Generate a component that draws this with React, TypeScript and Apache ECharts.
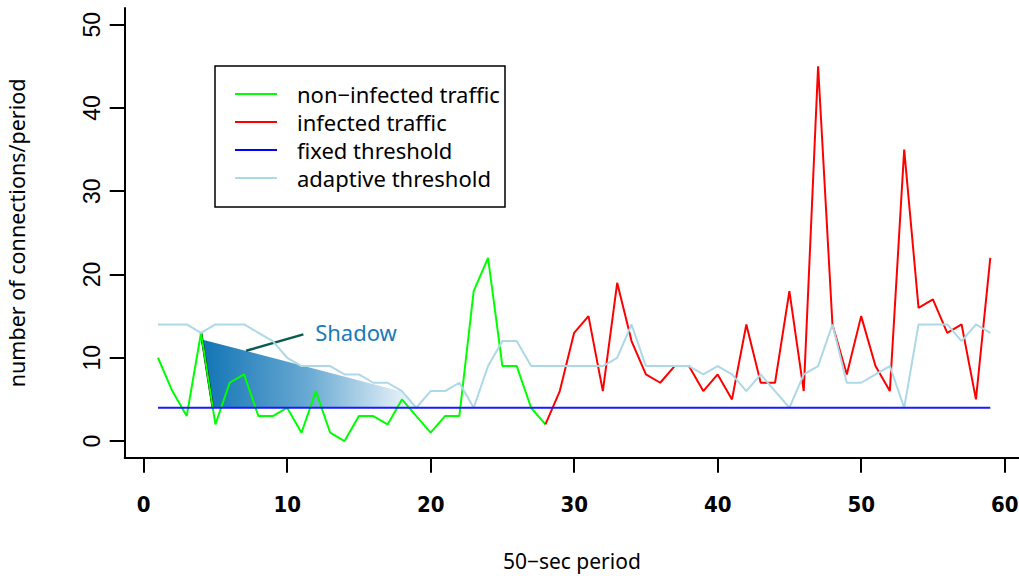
import React, { useEffect, useRef } from "react";
import * as echarts from "echarts";

const nonInfectedX = [1,2,3,4,5,6,7,8,9,10,11,12,13,14,15,16,17,18,19,20,21,22,23,24,25,26,27,28];
const nonInfected = [10,6,3,13,2,7,8,3,3,4,1,6,1,0,3,3,2,5,3,1,3,3,18,22,9,9,4,2];

const infectedX = [28,29,30,31,32,33,34,35,36,37,38,39,40,41,42,43,44,45,46,47,48,49,50,51,52,53,54,55,56,57,58,59];
const infected = [2,6,13,15,6,19,12,8,7,9,9,6,8,5,14,7,7,18,6,45,14,8,15,9,6,35,16,17,13,14,5,22];

const periods = [1,2,3,4,5,6,7,8,9,10,11,12,13,14,15,16,17,18,19,20,21,22,23,24,25,26,27,28,29,30,31,32,33,34,35,36,37,38,39,40,41,42,43,44,45,46,47,48,49,50,51,52,53,54,55,56,57,58,59];
const adaptive = [14,14,14,13,14,14,14,13,12,10,9,9,9,8,8,7,7,6,4,6,6,7,4,9,12,12,9,9,9,9,9,9,10,14,9,9,9,9,8,9,8,6,8,6,4,8,9,14,7,7,8,9,4,14,14,14,12,14,13];
const fixedThreshold = 4;

const xTicks = [0, 10, 20, 30, 40, 50, 60];
const yTicks = [0, 10, 20, 30, 40, 50];

// annotation, in data coordinates
const shadowPolygon = [[4.05, 12.2], [18.1, 5.9], [19.0, 4.0], [4.82, 4.0]];
const shadowEdge = [[4.0, 13.0], [4.82, 4.0]];
const shadowPointer = [[7.14, 10.84], [11.13, 12.81]];
const shadowLabelPos = [11.95, 13.05];

const legendNames = ["non\u2212infected traffic", "infected traffic", "fixed threshold", "adaptive threshold"];

const TEXT_FONT = "'Noto Sans', 'DejaVu Sans', sans-serif";

export default function App() {
  const ref = useRef<HTMLDivElement>(null);
  useEffect(() => {
    document.body.style.margin = "0";
    const chart = echarts.init(ref.current!, null, { renderer: "svg" });
    const pair = (xs: number[], ys: number[]) => xs.map((x, i) => [x, ys[i]]);
    const option: any = {
      animation: false,
      backgroundColor: "#ffffff",
      grid: { left: 124.7, right: 0, top: 8, bottom: 118.3, containLabel: false, outerBoundsMode: "none" },
      xAxis: {
        type: "value",
        min: -1.32,
        max: 61,
        axisLine: { show: true, onZero: false, lineStyle: { color: "#000", width: 2 } },
        axisTick: { show: true, customValues: xTicks, length: 15, inside: false, lineStyle: { color: "#000", width: 2 } },
        axisLabel: {
          customValues: xTicks,
          color: "#000",
          fontSize: 22,
          fontWeight: "bold",
          fontFamily: "'Liberation Sans Narrow', 'DejaVu Sans Condensed', sans-serif",
          margin: 36,
        },
        splitLine: { show: false },
        name: "50\u2212sec period",
        nameLocation: "middle",
        nameGap: 92,
        nameTextStyle: { color: "#000", fontSize: 21, fontFamily: TEXT_FONT, lineHeight: 22 },
      },
      yAxis: {
        type: "value",
        min: -2,
        max: 52,
        axisLine: { show: true, onZero: false, lineStyle: { color: "#000", width: 2 } },
        axisTick: { show: true, customValues: yTicks, length: 15, inside: false, lineStyle: { color: "#000", width: 2 } },
        axisLabel: {
          customValues: yTicks,
          color: "#000",
          fontSize: 23,
          fontFamily: "'Liberation Sans', Arial, sans-serif",
          rotate: 90,
          margin: 21,
        },
        splitLine: { show: false },
        name: "number of connections/period",
        nameLocation: "middle",
        nameRotate: 90,
        nameGap: 97,
        nameTextStyle: { color: "#000", fontSize: 21.5, fontFamily: TEXT_FONT },
      },
      legend: {
        data: legendNames,
        orient: "vertical",
        left: 235,
        top: 80,
        padding: 0,
        icon: "rect",
        itemWidth: 42,
        itemHeight: 2,
        itemGap: 0,
        selectedMode: false,
        textStyle: { color: "#000", fontSize: 22, fontFamily: TEXT_FONT, lineHeight: 28, padding: [0, 0, 0, 15] },
      },
      graphic: [
        {
          type: "rect",
          shape: { x: 215, y: 66, width: 290, height: 141 },
          style: { fill: "none", stroke: "#000", lineWidth: 1.5 },
          z: 10,
        },
      ],
      series: [
        {
          type: "custom",
          name: "shadow",
          coordinateSystem: "cartesian2d",
          clip: false,
          silent: true,
          z: 1,
          data: [[shadowLabelPos[0], shadowLabelPos[1]]],
          renderItem: (params: any, api: any) => {
            const poly = shadowPolygon.map((p) => api.coord(p));
            const edge = shadowEdge.map((p) => api.coord(p));
            const ptr = shadowPointer.map((p) => api.coord(p));
            const lab = api.coord(shadowLabelPos);
            return {
              type: "group",
              children: [
                {
                  type: "polygon",
                  shape: { points: poly },
                  style: {
                    fill: new echarts.graphic.LinearGradient(0, 0, 1, 0, [
                      { offset: 0, color: "#1174b4" },
                      { offset: 0.5, color: "#6aaad3" },
                      { offset: 1, color: "#f4f9fc" },
                    ]),
                    stroke: "none",
                  },
                },
                {
                  type: "line",
                  shape: { x1: edge[0][0], y1: edge[0][1], x2: edge[1][0], y2: edge[1][1] },
                  style: { stroke: "#000", lineWidth: 2.5 },
                },
                {
                  type: "line",
                  shape: { x1: ptr[0][0], y1: ptr[0][1], x2: ptr[1][0], y2: ptr[1][1] },
                  style: { stroke: "#0b5a4e", lineWidth: 2.5 },
                },
                {
                  type: "text",
                  x: lab[0],
                  y: lab[1],
                  style: {
                    text: "Shadow",
                    fill: "#1a7ab8",
                    fontSize: 22,
                    fontFamily: TEXT_FONT,
                    align: "left",
                    verticalAlign: "middle",
                  },
                },
              ],
            };
          },
        },
        {
          type: "line",
          name: legendNames[0],
          data: pair(nonInfectedX, nonInfected),
          color: "#00ff00",
          showSymbol: false,
          symbol: "none",
          lineStyle: { color: "#00ff00", width: 2 },
          z: 3,
        },
        {
          type: "line",
          name: legendNames[1],
          data: pair(infectedX, infected),
          color: "#ff0000",
          showSymbol: false,
          symbol: "none",
          lineStyle: { color: "#ff0000", width: 2 },
          z: 3,
        },
        {
          type: "line",
          name: legendNames[2],
          data: periods.map((x) => [x, fixedThreshold]),
          color: "#0000ff",
          showSymbol: false,
          symbol: "none",
          lineStyle: { color: "#1a1aff", width: 2 },
          z: 5,
        },
        {
          type: "line",
          name: legendNames[3],
          data: pair(periods, adaptive),
          color: "#add8e6",
          showSymbol: false,
          symbol: "none",
          lineStyle: { color: "#add8e6", width: 2 },
          z: 4,
        },
      ],
    };
    chart.setOption(option);
    return () => chart.dispose();
  }, []);
  return <div ref={ref} style={{ width: 1019, height: 576 }} />;
}
